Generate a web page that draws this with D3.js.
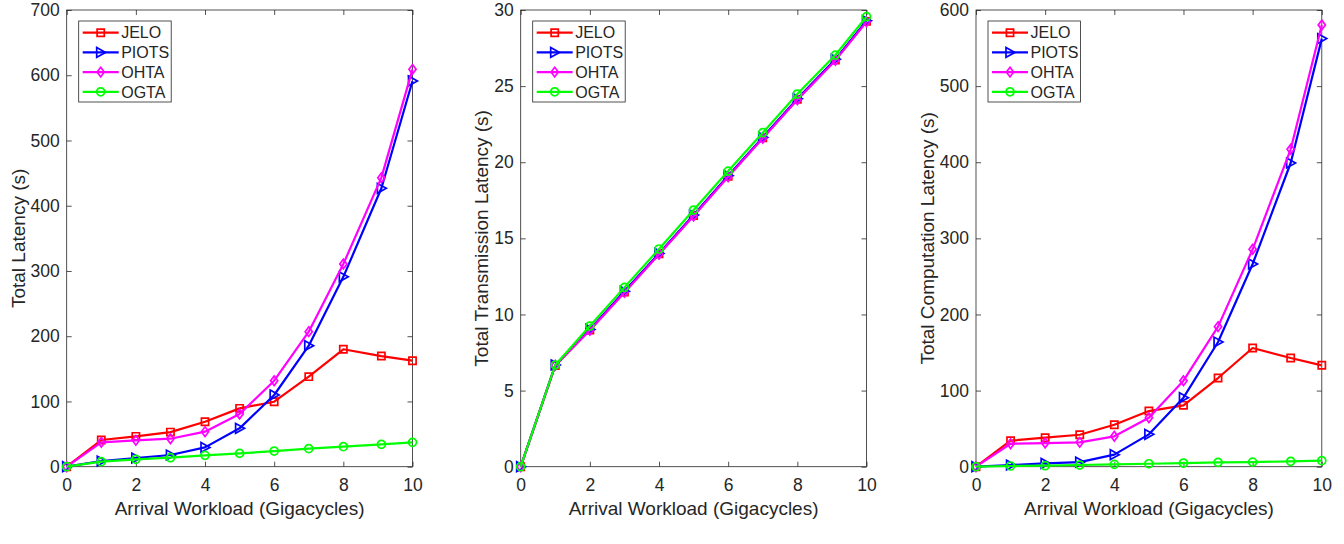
<!DOCTYPE html>
<html>
<head>
<meta charset="utf-8">
<script src="https://cdn.jsdelivr.net/npm/d3@7"></script>
<style>
  body { margin: 0; background: #fff; }
  text { font-family: "Liberation Sans", Arial, Helvetica, sans-serif; fill: #262626; }
</style>
</head>
<body>
<svg width="1344" height="544"></svg>
<script>
// workload (Gigacycles) -- the 9th point sits a little right of 9 in the original
var workload = [0, 1, 2, 3, 4, 5, 6, 7, 8, 9.1, 10];
var methods = ["JELO", "PIOTS", "OHTA", "OGTA"];
var colors = ["#ff0000", "#0000ff", "#ff00ff", "#00ff00"];
var markers = ["square", "triangle", "diamond", "circle"];

// total latency (s)
var totalJELO  = [0, 40.9, 46.5, 53, 69, 89.4, 99.6, 138, 180, 169.6, 162.5];
var totalPIOTS = [0, 8.7, 13.3, 17.9, 29.6, 58.8, 109.9, 185.5, 291, 426.7, 591.2];
var totalOHTA  = [0, 37.3, 40.4, 42.9, 53.7, 80.7, 131.8, 207, 310.7, 443, 609];
var totalOGTA  = [0, 7.7, 11.2, 13.8, 17.4, 20.4, 24, 27.6, 30.7, 34.2, 37.3];

// total transmission latency (s)
var transJELO  = [0, 6.65, 8.98, 11.48, 13.98, 16.5, 19.08, 21.6, 24.13, 26.72, 29.25];
var transPIOTS = [0, 6.68, 9.02, 11.52, 14.01, 16.53, 19.12, 21.63, 24.17, 26.76, 29.3];
var transOHTA  = [0, 6.66, 8.96, 11.45, 13.95, 16.47, 19.05, 21.57, 24.1, 26.69, 29.22];
var transOGTA  = [0, 6.68, 9.24, 11.78, 14.3, 16.86, 19.42, 21.94, 24.48, 27.04, 29.56];

// total computation latency (s)
var compJELO  = [0, 34.2, 38.1, 42, 55.2, 73.1, 80.6, 116.5, 155.9, 142.8, 133.2];
var compPIOTS = [0, 2.2, 4.4, 6.1, 15.8, 42.5, 90.7, 163.8, 266.3, 399, 562.4];
var compOHTA  = [0, 30.2, 31.1, 32, 39.9, 64.4, 113, 184, 285.6, 417, 580.4];
var compOGTA  = [0, 0.9, 1.3, 2.2, 3.1, 3.9, 4.8, 5.7, 6.1, 7, 7.9];

var xTicks = [0, 2, 4, 6, 8, 10];
var panels = [
  { left: 66.7, ylabel: "Total Latency (s)", ymax: 700, yTicks: d3.range(0, 701, 100),
    series: [totalJELO, totalPIOTS, totalOHTA, totalOGTA], labelX: 18 },
  { left: 520.7, ylabel: "Total Transmission Latency (s)", ymax: 30, yTicks: d3.range(0, 31, 5),
    series: [transJELO, transPIOTS, transOHTA, transOGTA], labelX: 481.7 },
  { left: 976, ylabel: "Total Computation Latency (s)", ymax: 600, yTicks: d3.range(0, 601, 100),
    series: [compJELO, compPIOTS, compOHTA, compOGTA], labelX: 927.3 }
];

var svg = d3.select("svg");
var plotTop = 10, plotBottom = 466.7, pw = 345.8;
var tickFont = 17.5, labelFont = 19, legendFont = 16;

function markerPath(type) {
  if (type === "square") return "M-3.6,-3.6H3.6V3.6H-3.6Z";
  if (type === "triangle") return "M-4,-4.9L4.9,0L-4,4.9Z";
  if (type === "diamond") return "M0,-4.8L3.6,0L0,4.8L-3.6,0Z";
  return "M4,0A4,4 0 1,1 -4,0A4,4 0 1,1 4,0Z";
}

panels.forEach(function(p) {
  var x = d3.scaleLinear().domain([0, 10]).range([p.left, p.left + pw]);
  var y = d3.scaleLinear().domain([0, p.ymax]).range([plotBottom, plotTop]);
  var g = svg.append("g");

  function styleAxis(sel, showText) {
    sel.select(".domain").remove();
    sel.selectAll(".tick line").attr("stroke", "#262626").attr("stroke-width", 0.8);
    sel.selectAll(".tick text")
      .style("font-size", tickFont + "px")
      .attr("fill", "#262626")
      .style("display", showText ? null : "none");
  }

  g.append("g").attr("transform", "translate(0," + plotBottom + ")")
    .call(d3.axisBottom(x).tickValues(xTicks).tickSize(-5).tickPadding(12).tickFormat(d3.format("d")))
    .call(styleAxis, true);
  g.append("g").attr("transform", "translate(0," + plotTop + ")")
    .call(d3.axisTop(x).tickValues(xTicks).tickSize(-5))
    .call(styleAxis, false);
  g.append("g").attr("transform", "translate(" + p.left + ",0)")
    .call(d3.axisLeft(y).tickValues(p.yTicks).tickSize(-5).tickPadding(7).tickFormat(d3.format("d")))
    .call(styleAxis, true);
  g.append("g").attr("transform", "translate(" + (p.left + pw) + ",0)")
    .call(d3.axisRight(y).tickValues(p.yTicks).tickSize(-5))
    .call(styleAxis, false);

  g.append("rect")
    .attr("x", p.left).attr("y", plotTop)
    .attr("width", pw).attr("height", plotBottom - plotTop)
    .attr("fill", "none").attr("stroke", "#262626").attr("stroke-width", 0.8);

  var line = d3.line().x(function(d, i) { return x(workload[i]); }).y(function(d) { return y(d); });

  p.series.forEach(function(vals, k) {
    var s = g.append("g");
    s.append("path").datum(vals)
      .attr("d", line)
      .attr("fill", "none")
      .attr("stroke", colors[k])
      .attr("stroke-width", 2.2)
      .attr("stroke-linejoin", "round");
    s.selectAll("path.mk").data(vals).enter().append("path")
      .attr("class", "mk")
      .attr("d", markerPath(markers[k]))
      .attr("transform", function(d, i) { return "translate(" + x(workload[i]) + "," + y(d) + ")"; })
      .attr("fill", "none")
      .attr("stroke", colors[k])
      .attr("stroke-width", 1.7);
  });

  // axis labels
  g.append("text")
    .attr("x", p.left + pw / 2).attr("y", 514.5)
    .attr("text-anchor", "middle")
    .style("font-size", labelFont + "px")
    .text("Arrival Workload (Gigacycles)");
  g.append("text")
    .attr("transform", "translate(" + p.labelX + "," + (plotTop + plotBottom) / 2 + ") rotate(-90)")
    .attr("dy", "0.35em")
    .attr("text-anchor", "middle")
    .style("font-size", labelFont + "px")
    .text(p.ylabel);

  // legend
  var lx = p.left + 12, ly = plotTop + 11;
  var leg = g.append("g");
  leg.append("rect")
    .attr("x", lx).attr("y", ly)
    .attr("width", 92.5).attr("height", 81)
    .attr("fill", "#fff").attr("stroke", "#262626").attr("stroke-width", 0.8);
  methods.forEach(function(m, k) {
    var ry = ly + 11.7 + k * 19.7;
    leg.append("line")
      .attr("x1", lx + 4).attr("x2", lx + 40)
      .attr("y1", ry).attr("y2", ry)
      .attr("stroke", colors[k]).attr("stroke-width", 2.2);
    leg.append("path")
      .attr("d", markerPath(markers[k]))
      .attr("transform", "translate(" + (lx + 22) + "," + ry + ")")
      .attr("fill", "none").attr("stroke", colors[k]).attr("stroke-width", 1.7);
    leg.append("text")
      .attr("x", lx + 42.5).attr("y", ry)
      .attr("dy", "0.36em")
      .style("font-size", legendFont + "px")
      .attr("fill", "#000")
      .text(m);
  });
});
</script>
</body>
</html>
